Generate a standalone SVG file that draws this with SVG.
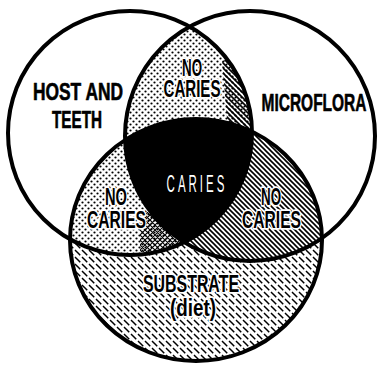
<svg xmlns="http://www.w3.org/2000/svg" width="379" height="366" viewBox="0 0 379 366">
<style>
.ring{fill:none;stroke:#000;stroke-width:4}
.lbl{font-family:"Liberation Sans",Arial,sans-serif;font-weight:bold;font-size:23px;fill:#000;text-anchor:middle;stroke:#fff;stroke-width:3.5;stroke-linejoin:round;paint-order:stroke}
.plain{stroke-width:0.6;stroke:#000}
.thin{font-family:"Liberation Sans",Arial,sans-serif;font-weight:normal;font-size:23px;fill:#fff;text-anchor:middle}
</style>
<defs>
<pattern id="dots" width="6" height="6" patternUnits="userSpaceOnUse">
<circle cx="1.5" cy="1.5" r="1.1" fill="#000"/>
<circle cx="4.5" cy="4.5" r="1.1" fill="#000"/>
</pattern>
<pattern id="hatchDense" width="5" height="5" patternUnits="userSpaceOnUse">
<path d="M-1,-1 L6,6 M-1,4 L1,6 M4,-1 L6,1" stroke="#000" stroke-width="1.6"/>
</pattern>
<pattern id="hatchSparse" width="7" height="7" patternUnits="userSpaceOnUse">
<path d="M-1,-1 L8,8 M-1,6 L1,8 M6,-1 L8,1" stroke="#000" stroke-width="1.5" stroke-dasharray="6 2.5"/>
</pattern>
<pattern id="hatchCross" width="5" height="5" patternUnits="userSpaceOnUse">
<path d="M-1,-1 L6,6 M-1,4 L1,6 M4,-1 L6,1 M6,-1 L-1,6" stroke="#000" stroke-width="1.1"/>
</pattern>
<clipPath id="cL"><circle cx="130" cy="133" r="122"/></clipPath>
<clipPath id="cR"><circle cx="250" cy="136" r="125"/></clipPath>
<clipPath id="cB"><ellipse cx="196" cy="240" rx="126" ry="121"/></clipPath>
</defs>
<rect width="379" height="366" fill="#fff"/>
<g id="regions">
<ellipse cx="196" cy="240" rx="126" ry="121" fill="url(#hatchSparse)"/>
<g clip-path="url(#cL)">
<ellipse cx="196" cy="240" rx="126" ry="121" fill="#fff"/>
<ellipse cx="196" cy="240" rx="126" ry="121" fill="url(#dots)"/>
<g clip-path="url(#cB)"><rect x="140" y="212" width="60" height="40" fill="url(#hatchCross)"/></g>
</g>
<g clip-path="url(#cR)">
<ellipse cx="196" cy="240" rx="126" ry="121" fill="#fff"/>
<ellipse cx="196" cy="240" rx="126" ry="121" fill="url(#hatchDense)"/>
</g>
<g clip-path="url(#cL)">
<circle cx="250" cy="136" r="125" fill="#fff"/>
<circle cx="250" cy="136" r="125" fill="url(#dots)"/>
<g clip-path="url(#cR)"><polygon points="222,60 260,60 260,130 228,130" fill="url(#hatchDense)"/></g>
</g>
<g clip-path="url(#cL)"><g clip-path="url(#cR)">
<ellipse cx="196" cy="240" rx="126" ry="121" fill="#000"/>
</g></g>
</g>
<g id="host"><circle class="ring" cx="130" cy="133" r="122"/>
<text class="lbl plain" x="78" y="100" textLength="90" lengthAdjust="spacingAndGlyphs">HOST AND</text>
<text class="lbl plain" x="77" y="128" textLength="50" lengthAdjust="spacingAndGlyphs">TEETH</text>
</g>
<g id="microflora"><circle class="ring" cx="250" cy="136" r="125"/>
<text class="lbl plain" x="314" y="111" textLength="105" lengthAdjust="spacingAndGlyphs">MICROFLORA</text>
</g>
<g id="substrate"><ellipse class="ring" cx="196" cy="240" rx="126" ry="121"/>
<text class="lbl" x="191" y="292" textLength="96" lengthAdjust="spacingAndGlyphs">SUBSTRATE</text>
<text class="lbl" x="193" y="316" textLength="46" lengthAdjust="spacingAndGlyphs">(diet)</text>
</g>
<g id="host-microflora">
<text class="lbl" x="192" y="76" textLength="20" lengthAdjust="spacingAndGlyphs">NO</text>
<text class="lbl" x="192" y="97" textLength="57" lengthAdjust="spacingAndGlyphs">CARIES</text>
</g>
<g id="host-substrate">
<text class="lbl" x="116" y="205" textLength="22" lengthAdjust="spacingAndGlyphs">NO</text>
<text class="lbl" x="116.5" y="228" textLength="59" lengthAdjust="spacingAndGlyphs">CARIES</text>
</g>
<g id="microflora-substrate">
<text class="lbl" x="271" y="205" textLength="20" lengthAdjust="spacingAndGlyphs">NO</text>
<text class="lbl" x="271.5" y="228" textLength="59" lengthAdjust="spacingAndGlyphs">CARIES</text>
</g>
<g id="caries">
<text class="thin" transform="translate(197,192) scale(0.5,1)" letter-spacing="6">CARIES</text>
</g>
<g id="connectors"/>
</svg>
